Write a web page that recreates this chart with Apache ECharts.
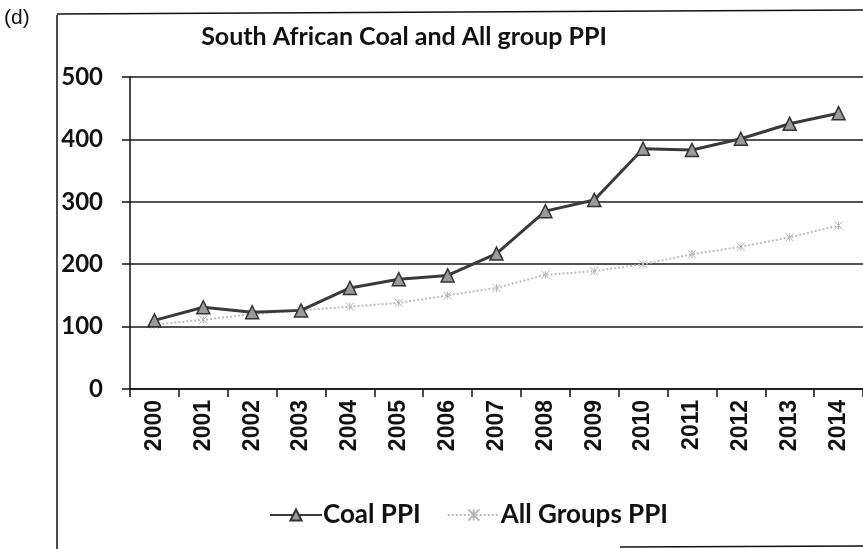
<!DOCTYPE html>
<html>
<head>
<meta charset="utf-8">
<script src="https://cdn.jsdelivr.net/npm/echarts@6/dist/echarts.min.js"></script>
<style>
  html, body { margin: 0; padding: 0; background: #fff; }
  #chart { width: 863px; height: 549px; }
</style>
</head>
<body>
<div id="chart"></div>
<script>
// data
const years = ['2000', '2001', '2002', '2003', '2004', '2005', '2006', '2007',
  '2008', '2009', '2010', '2011', '2012', '2013', '2014'];
const coalPPI = [110, 131, 123, 126, 162, 176, 182, 217, 285, 303, 385, 383, 401, 425, 442];
const allGroupsPPI = [103, 111, 120, 126, 132, 138, 150, 162, 183, 189, 200, 216, 228, 243, 262];
const yTicks = [0, 100, 200, 300, 400, 500];

const chart = echarts.init(document.getElementById('chart'));

// small "x" marker for the all groups series
const crossPath = 'path://M0,0 L10,10 M10,0 L0,10 M5,0 L5,10';

const option = {
  backgroundColor: '#fff',
  animation: false,
  title: {
    text: 'South African Coal and All group PPI',
    left: 399,
    textAlign: 'center',
    top: 19,
    textStyle: { fontFamily: 'Lato', fontWeight: 'bold', fontSize: 25, color: '#111' }
  },
  legend: {
    left: 264,
    top: 497,
    itemWidth: 52,
    itemHeight: 14,
    itemGap: 26,
    textStyle: { fontFamily: 'Lato', fontWeight: 'bold', fontSize: 26, color: '#111', padding: [0, 0, 0, -4] },
    data: ['Coal PPI', 'All Groups PPI']
  },
  grid: { left: 130, top: 77, width: 742, height: 312 },
  xAxis: {
    type: 'category',
    data: years,
    boundaryGap: true,
    axisLine: { lineStyle: { color: '#111', width: 1.5 } },
    axisTick: { show: true, interval: 0, length: 8, lineStyle: { color: '#111', width: 1.5 } },
    axisLabel: {
      interval: 0,
      rotate: 90,
      margin: 11,
      fontFamily: 'Liberation Sans',
      fontWeight: 'bold',
      fontSize: 23,
      color: '#111'
    }
  },
  yAxis: {
    type: 'value',
    min: yTicks[0],
    max: yTicks[yTicks.length - 1],
    interval: 100,
    axisLine: { show: true, lineStyle: { color: '#111', width: 1.5 } },
    axisTick: { show: true, length: 8, lineStyle: { color: '#111', width: 1.5 } },
    axisLabel: {
      margin: 27,
      fontFamily: 'Lato',
      fontWeight: 'bold',
      fontSize: 24,
      color: '#111'
    },
    splitLine: { lineStyle: { color: '#1a1a1a', width: 1.5 } }
  },
  series: [
    {
      name: 'Coal PPI',
      type: 'line',
      data: coalPPI,
      symbol: 'triangle',
      symbolSize: 13,
      lineStyle: { color: '#3a3a3a', width: 3 },
      itemStyle: { color: '#9a9a9a', borderColor: '#333', borderWidth: 1.5 },
      z: 3
    },
    {
      name: 'All Groups PPI',
      type: 'line',
      data: allGroupsPPI,
      symbol: crossPath,
      symbolSize: 8,
      lineStyle: { color: '#bdbdbd', width: 2, type: 'dotted' },
      itemStyle: { color: 'none', borderColor: '#b5b5b5', borderWidth: 1 },
      z: 2
    }
  ],
  graphic: [
    { type: 'text', left: 4, top: 8, style: { text: '(d)', fontFamily: 'Liberation Sans', fontSize: 21, fill: '#111' } },
    { type: 'line', shape: { x1: 57, y1: 15, x2: 57, y2: 549 }, style: { stroke: '#111', lineWidth: 1.5 } },
    { type: 'line', shape: { x1: 57, y1: 14, x2: 863, y2: 10 }, style: { stroke: '#111', lineWidth: 1.5 } },
    { type: 'line', shape: { x1: 620, y1: 547, x2: 863, y2: 546 }, style: { stroke: '#111', lineWidth: 1.5 } }
  ]
};

chart.setOption(option);
</script>
</body>
</html>
